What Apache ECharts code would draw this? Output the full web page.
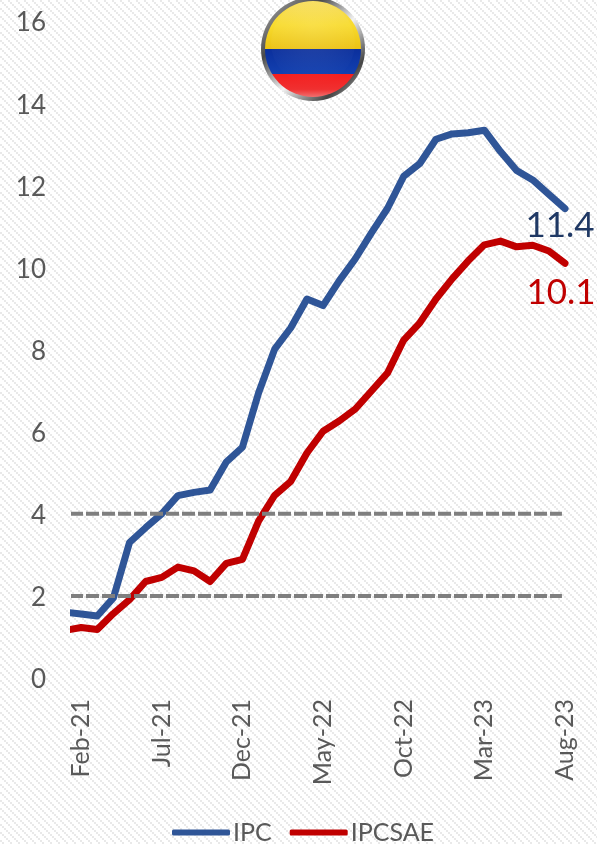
<!DOCTYPE html>
<html><head><meta charset="utf-8">
<style>html,body{margin:0;padding:0;background:#fff}#c{width:597px;height:844px}</style>
<script src="https://cdn.jsdelivr.net/npm/echarts@6/dist/echarts.min.js"></script>
</head><body><div id="c"></div>
<script>
const months = ['Jan-21','Feb-21','Mar-21','Apr-21','May-21','Jun-21','Jul-21','Aug-21','Sep-21','Oct-21','Nov-21','Dec-21','Jan-22','Feb-22','Mar-22','Apr-22','May-22','Jun-22','Jul-22','Aug-22','Sep-22','Oct-22','Nov-22','Dec-22','Jan-23','Feb-23','Mar-23','Apr-23','May-23','Jun-23','Jul-23','Aug-23'];
const tickMonths = ['Feb-21','Jul-21','Dec-21','May-22','Oct-22','Mar-23','Aug-23'];
const ipc = [1.60,1.56,1.51,1.95,3.30,3.66,4.00,4.44,4.52,4.58,5.26,5.62,6.94,8.01,8.53,9.23,9.07,9.67,10.21,10.84,11.44,12.22,12.53,13.12,13.25,13.28,13.34,12.82,12.36,12.13,11.78,11.43];
const ipcsae = [1.16,1.23,1.18,1.57,1.91,2.35,2.45,2.70,2.61,2.35,2.79,2.89,3.82,4.45,4.79,5.48,6.01,6.26,6.55,6.99,7.43,8.23,8.65,9.23,9.72,10.16,10.55,10.64,10.50,10.54,10.40,10.10];
const targetLow = [2,2];
const targetHigh = [4,4];
const targetSpan = [0.31,30.81];

const tile = document.createElement('canvas');
tile.width = 8; tile.height = 8;
const tc = tile.getContext('2d');
tc.fillStyle = '#ffffff'; tc.fillRect(0,0,8,8);
tc.fillStyle = '#e9e9e9';
for (let i=0;i<8;i+=2){ tc.fillRect(i,i,2,2); }

const font = 'Lato, Carlito, sans-serif';
const pairs = (vals) => vals.map((v,i)=>[i,v]);
const endLabel = (color,offset) => ({show:true,align:'center',verticalAlign:'middle',distance:0,offset,
  formatter:p=>p.value[1].toFixed(1),fontFamily:font,fontSize:35,color});
const chart = echarts.init(document.getElementById('c'),null,{renderer:'canvas'});
const cx=313, cy=49;
chart.setOption({
  animation:false,
  backgroundColor:{image:tile,repeat:'repeat'},
  grid:{left:73.5,right:32,top:21,bottom:166},
  legend:{left:167,top:815,padding:5,itemWidth:58,itemHeight:6,itemGap:18,icon:'roundRect',
    data:['IPC','IPCSAE'],
    textStyle:{fontFamily:font,fontSize:25,color:'#595959',padding:[0,0,0,-2]}},
  xAxis:{type:'value',min:0.527,max:31,splitLine:{show:false},axisLine:{show:false},axisTick:{show:false},
    axisLabel:{customValues:tickMonths.map(m=>months.indexOf(m)),formatter:v=>months[Math.round(v)],rotate:90,margin:21,fontFamily:font,fontSize:25,color:'#595959',showMinLabel:true,showMaxLabel:true,hideOverlap:false}},
  yAxis:{type:'value',min:0,max:16,interval:2,splitLine:{show:false},axisLine:{show:false},axisTick:{show:false},
    axisLabel:{margin:27.5,verticalAlign:'top',lineHeight:4,fontFamily:font,fontSize:26,color:'#595959'}},
  series:[
    {name:'IPC',type:'line',data:pairs(ipc),symbol:'none',lineStyle:{color:'#2F5597',width:7,cap:'round',join:'round'},itemStyle:{color:'#2F5597'},endLabel:endLabel('#1F3864',[-5,17]),z:3},
    {name:'IPCSAE',type:'line',data:pairs(ipcsae),symbol:'none',lineStyle:{color:'#C00000',width:7,cap:'round',join:'round'},itemStyle:{color:'#C00000'},endLabel:endLabel('#C00000',[-4,29]),z:3},
    {name:'Meta baja',type:'line',clip:false,data:targetSpan.map((x,i)=>[x,targetLow[i]]),symbol:'none',lineStyle:{color:'#7F7F7F',width:4,type:[13,3]},z:4,silent:true},
    {name:'Meta alta',type:'line',clip:false,data:targetSpan.map((x,i)=>[x,targetHigh[i]]),symbol:'none',lineStyle:{color:'#7F7F7F',width:4,type:[13,3]},z:4,silent:true}
  ],
  graphic:[
    {type:'circle',silent:true,z:10,shape:{cx,cy,r:52},style:{fill:{type:'linear',x:0,y:0,x2:1,y2:1,colorStops:[{offset:0,color:'#b8b8b8'},{offset:0.3,color:'#4a4a4a'},{offset:0.55,color:'#f2f2f2'},{offset:0.8,color:'#444444'},{offset:1,color:'#d8d8d8'}]}}},
    {type:'circle',silent:true,z:11,shape:{cx,cy,r:48},style:{fill:{type:'linear',x:0,y:0,x2:0,y2:1,colorStops:[
      {offset:0,color:'#F6DC5A'},{offset:0.25,color:'#F8DB2E'},{offset:0.5,color:'#EBC214'},{offset:0.5,color:'#0B2F9C'},{offset:0.76,color:'#1240B0'},{offset:0.76,color:'#F41E1E'},{offset:0.92,color:'#F03030'},{offset:1,color:'#F07070'}]}}},
    {type:'circle',silent:true,z:12,shape:{cx,cy:cy-6,r:42},style:{fill:{type:'radial',x:0.5,y:0.3,r:0.7,colorStops:[{offset:0,color:'rgba(255,255,255,0.12)'},{offset:1,color:'rgba(255,255,255,0)'}]}}}
  ]
});
</script></body></html>
